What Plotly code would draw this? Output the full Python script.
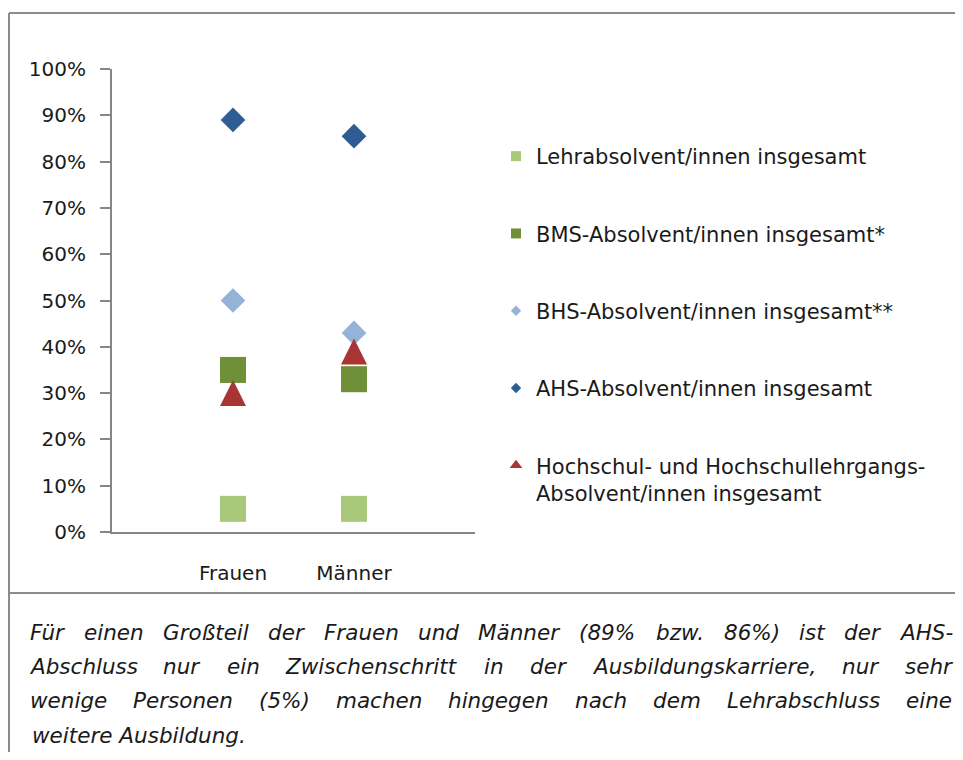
import plotly.graph_objects as go

# page body has an 8px margin; figure sized so page fits the 963x760 window
W, H = 947, 744
OX, OY = 8, 8  # page offset of the figure


def px(x):
    return (x - OX) / W


def py(y):
    return 1 - (y - OY) / H


categories = ["Frauen", "Männer"]
series_names = [
    "Lehrabsolvent/innen insgesamt",
    "BMS-Absolvent/innen insgesamt*",
    "BHS-Absolvent/innen insgesamt**",
    "AHS-Absolvent/innen insgesamt",
    "Hochschul- und Hochschullehrgangs-<br>Absolvent/innen insgesamt",
]
lehr = [5, 5]
bms = [35, 33]
bhs = [50, 43]
ahs = [89, 85.5]
hoch = [30, 39]
y_ticks = [0, 10, 20, 30, 40, 50, 60, 70, 80, 90, 100]
caption_lines = [
    "Für einen Großteil der Frauen und Männer (89% bzw. 86%) ist der AHS-",
    "Abschluss nur ein Zwischenschritt in der Ausbildungskarriere, nur sehr",
    "wenige Personen (5%) machen hingegen nach dem Lehrabschluss eine",
    "weitere Ausbildung.",
]

values = [lehr, bms, bhs, ahs, hoch]
colors = ["#A9C97A", "#6F8F38", "#95B3D7", "#2F5C93", "#A93434"]
symbols = ["square", "square", "diamond", "diamond", "arrow-down"]
angles = [0, 0, 0, 0, 180]
standoffs = [0, 0, 0, 0, 13]
sizes = [26, 26, 19, 19, 26]
leg_symbols = ["square", "square", "diamond", "diamond", "triangle-up"]
leg_sizes = [10, 10, 8, 8, 11]

xpos = list(range(len(categories)))

fig = go.Figure()
for i, (name, vals) in enumerate(zip(series_names, values)):
    fig.add_trace(go.Scatter(
        x=xpos, y=vals, mode="markers", showlegend=False,
        marker=dict(symbol=symbols[i], size=sizes[i], color=colors[i],
                    angle=angles[i], standoff=standoffs[i], line=dict(width=0)),
        hoverinfo="skip",
    ))
for i, name in enumerate(series_names):
    fig.add_trace(go.Scatter(
        x=[None], y=[None], mode="markers", name=name, legendgroup=str(i),
        marker=dict(symbol=leg_symbols[i], size=leg_sizes[i], color=colors[i], line=dict(width=0)),
    ))

axis_col = "#868686"
font_col = "#1a1a1a"
border_col = "#8c8c8c"
fig.update_layout(
    width=W, height=H,
    margin=dict(l=0, r=0, t=0, b=0, autoexpand=False),
    paper_bgcolor="white", plot_bgcolor="white",
    font=dict(family="DejaVu Sans", size=20, color=font_col),
    xaxis=dict(
        domain=[px(112), px(475)], range=[-1, 2],
        tickmode="array", tickvals=xpos, ticktext=categories,
        showgrid=False, zeroline=False, showline=True, linecolor=axis_col, linewidth=2,
        ticks="", ticklabelstandoff=22, fixedrange=True, automargin=False,
    ),
    yaxis=dict(
        domain=[py(532), py(69)], range=[0, 100],
        tickmode="array", tickvals=y_ticks, ticktext=[f"{v}%" for v in y_ticks],
        showgrid=False, zeroline=False, showline=True, linecolor=axis_col, linewidth=2,
        ticks="outside", ticklen=10, tickcolor=axis_col, tickwidth=2, fixedrange=True,
        ticklabelstandoff=10, automargin=False,
    ),
    legend=dict(
        x=px(496), y=py(136), xanchor="left", yanchor="top",
        traceorder="grouped", tracegroupgap=47, valign="top",
        font=dict(size=21, color=font_col), bgcolor="rgba(0,0,0,0)",
        itemsizing="trace",
    ),
    shapes=[
        dict(type="line", xref="paper", yref="paper", x0=px(9), x1=1.0, y0=py(13), y1=py(13),
             line=dict(color=border_col, width=2), layer="below"),
        dict(type="line", xref="paper", yref="paper", x0=px(9), x1=1.0, y0=py(593), y1=py(593),
             line=dict(color=border_col, width=2), layer="below"),
        dict(type="line", xref="paper", yref="paper", x0=px(9), x1=px(9), y0=0.0, y1=py(13),
             line=dict(color=border_col, width=2), layer="below"),
    ],
)

# approximate advance widths (em) of DejaVu Sans, used to justify the caption lines
CW = {" ": .318, "(": .390, ")": .390, "%": .950, "-": .361, ".": .318, ",": .318, "/": .337,
      "A": .684, "B": .686, "F": .575, "G": .775, "H": .752, "L": .557, "M": .863, "P": .603,
      "S": .635, "Z": .685, "ß": .630, "ä": .613, "ü": .634,
      "a": .613, "b": .635, "c": .550, "d": .635, "e": .615, "f": .352, "g": .635, "h": .634,
      "i": .278, "j": .278, "k": .579, "l": .278, "m": .974, "n": .634, "o": .612, "p": .635,
      "q": .635, "r": .411, "s": .521, "t": .392, "u": .634, "v": .592, "w": .818, "x": .592,
      "y": .592, "z": .525}
for d in "0123456789":
    CW[d] = .636

cap_size = 21.5
cap_font = dict(family="DejaVu Sans", size=cap_size, color=font_col)
left_x, right_x = 30, 952
line_y = [632, 666, 700, 735]


def word_w(w):
    return sum(CW.get(c, .6) for c in w) * cap_size


for li, (txt, yy) in enumerate(zip(caption_lines, line_y)):
    if li < len(caption_lines) - 1:
        words = txt.split(" ")
        widths = [word_w(w) for w in words]
        gap = (right_x - left_x - sum(widths)) / (len(words) - 1)
        x = left_x
        for w, ww in zip(words, widths):
            fig.add_annotation(
                x=px(x + ww / 2), y=py(yy), xref="paper", yref="paper",
                xanchor="center", yanchor="middle", showarrow=False,
                text=f"<i>{w}</i>", font=cap_font,
            )
            x += ww + gap
    else:
        fig.add_annotation(
            x=px(left_x), y=py(yy), xref="paper", yref="paper",
            xanchor="left", yanchor="middle", showarrow=False,
            text=f"<i>{txt}</i>", font=cap_font,
        )

fig.write_html("out.html")
